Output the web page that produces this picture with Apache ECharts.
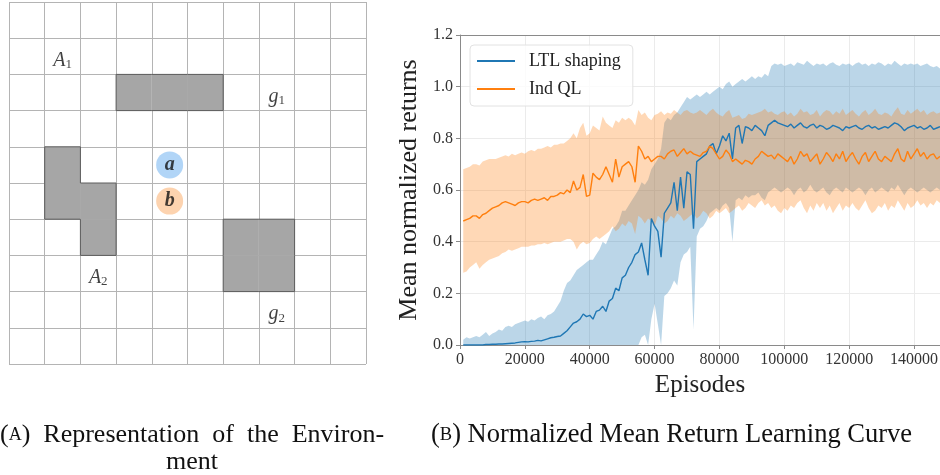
<!DOCTYPE html>
<html>
<head>
<meta charset="utf-8">
<script src="https://cdn.jsdelivr.net/npm/echarts@6/dist/echarts.min.js"></script>
<style>
html, body { margin: 0; padding: 0; background: #fff; }
#main { width: 940px; height: 475px; }
</style>
</head>
<body>
<div id="main"></div>
<script>
// ---- left: grid world ----
var gridSize = 10;
var obstacleCells = [[3, 2], [4, 2], [5, 2], [1, 4], [1, 5], [2, 5], [2, 6], [6, 6], [7, 6], [6, 7], [7, 7]];
var cellLabels = [[1.5, 1.5, 'A', '1'], [7.5, 2.5, 'g', '1'], [2.5, 7.5, 'A', '2'], [7.5, 8.5, 'g', '2']];
var agentCells = [[4.5, 4.5], [4.5, 5.5]];
var agentNames = ['a', 'b'];
var agentColors = ['#9ecaf5', '#fcc89b'];

// ---- right: learning curve (episodes 1000, 2000, ... 148000) ----
var epStart = 1000, epStep = 1000;
var xTicks = [0, 20000, 40000, 60000, 80000, 100000, 120000, 140000];

var ltlMean = [
  0, 0, 0, 0, 0, 0, 0, 0.002, 0.002, 0.003,
  0.003, 0.004, 0.004, 0.005, 0.006, 0.007, 0.008, 0.01, 0.012, 0.013,
  0.012, 0.014, 0.015, 0.018, 0.016, 0.02, 0.024, 0.028, 0.03, 0.033,
  0.035, 0.045, 0.055, 0.07, 0.085, 0.09, 0.10, 0.12, 0.11, 0.115,
  0.10, 0.13, 0.135, 0.15, 0.13, 0.17, 0.18, 0.22, 0.21, 0.26,
  0.27, 0.30, 0.32, 0.35, 0.36, 0.395, 0.33, 0.27, 0.49, 0.46,
  0.44, 0.34, 0.51, 0.53, 0.55, 0.63, 0.52, 0.65, 0.53, 0.67,
  0.66, 0.45, 0.71, 0.72, 0.73, 0.74, 0.77, 0.78, 0.74, 0.77,
  0.81, 0.79, 0.82, 0.72, 0.84, 0.85, 0.78, 0.845, 0.84, 0.83,
  0.85, 0.84, 0.83, 0.81, 0.85, 0.86, 0.87, 0.86, 0.855, 0.85,
  0.845, 0.855, 0.84, 0.85, 0.86, 0.845, 0.84, 0.85, 0.855, 0.84,
  0.85, 0.845, 0.835, 0.84, 0.85, 0.845, 0.84, 0.83, 0.845, 0.84,
  0.845, 0.85, 0.84, 0.835, 0.845, 0.85, 0.84, 0.845, 0.835, 0.84,
  0.845, 0.84, 0.85, 0.86, 0.855, 0.845, 0.83, 0.84, 0.845, 0.85,
  0.84, 0.845, 0.835, 0.84, 0.85, 0.835, 0.84, 0.845
];
var ltlHi = [
  0.02, 0.03, 0.025, 0.03, 0.035, 0.03, 0.04, 0.05, 0.035, 0.045,
  0.05, 0.06, 0.055, 0.07, 0.075, 0.07, 0.08, 0.085, 0.09, 0.095,
  0.09, 0.10, 0.095, 0.105, 0.11, 0.10, 0.115, 0.12, 0.13, 0.15,
  0.17, 0.21, 0.24, 0.25, 0.27, 0.29, 0.30, 0.31, 0.32, 0.33,
  0.33, 0.35, 0.37, 0.40, 0.39, 0.42, 0.45, 0.46, 0.48, 0.52,
  0.52, 0.54, 0.56, 0.58, 0.60, 0.63, 0.62, 0.64, 0.68, 0.70,
  0.72, 0.76, 0.86, 0.88, 0.87, 0.89, 0.90, 0.92, 0.94, 0.96,
  0.95, 0.96, 0.97, 0.96, 0.97, 0.98, 0.97, 0.98, 0.99, 1.00,
  0.99, 1.01, 1.02, 1.00, 1.01, 1.02, 1.03, 1.02, 1.03, 1.04,
  1.03, 1.04, 1.035, 1.05, 1.04, 1.08, 1.09, 1.085, 1.09, 1.08,
  1.085, 1.09, 1.08, 1.095, 1.09, 1.085, 1.10, 1.09, 1.08, 1.09,
  1.085, 1.09, 1.08, 1.09, 1.095, 1.085, 1.08, 1.09, 1.085, 1.09,
  1.08, 1.09, 1.095, 1.085, 1.09, 1.08, 1.09, 1.085, 1.095, 1.09,
  1.08, 1.09, 1.085, 1.10, 1.09, 1.08, 1.09, 1.085, 1.09, 1.085,
  1.09, 1.08, 1.085, 1.09, 1.08, 1.075, 1.08, 1.07
];
var ltlLo = [
  0, 0, 0, 0, 0, 0, 0, 0, 0, 0,
  0, 0, 0, 0, 0, 0, 0, 0, 0, 0,
  0, 0, 0, 0, 0, 0, 0, 0, 0, 0,
  0, 0, 0, 0, 0, 0, 0, 0, 0, 0,
  0, 0, 0, 0, 0, 0, 0, 0, 0, 0,
  0, 0, 0, 0, 0, 0.03, 0.04, 0, 0.10, 0.16,
  0.08, 0, 0.19, 0.20, 0.22, 0.25, 0.23, 0.32, 0.35, 0.36,
  0.38, 0.06, 0.42, 0.45, 0.46, 0.48, 0.51, 0.52, 0.53, 0.52,
  0.54, 0.55, 0.53, 0.40, 0.56, 0.57, 0.56, 0.58, 0.57, 0.58,
  0.58, 0.59, 0.57, 0.56, 0.59, 0.60, 0.61, 0.60, 0.59, 0.60,
  0.61, 0.60, 0.58, 0.60, 0.61, 0.59, 0.60, 0.62, 0.60, 0.59,
  0.60, 0.61, 0.59, 0.58, 0.60, 0.61, 0.60, 0.59, 0.61, 0.60,
  0.59, 0.60, 0.61, 0.60, 0.58, 0.60, 0.61, 0.59, 0.60, 0.61,
  0.60, 0.59, 0.61, 0.60, 0.62, 0.60, 0.58, 0.60, 0.61, 0.60,
  0.59, 0.60, 0.61, 0.60, 0.59, 0.60, 0.61, 0.60
];

var indMean = [
  0.48, 0.485, 0.49, 0.50, 0.50, 0.49, 0.505, 0.51, 0.52, 0.53,
  0.535, 0.54, 0.55, 0.555, 0.55, 0.545, 0.54, 0.55, 0.555, 0.555,
  0.55, 0.56, 0.565, 0.56, 0.565, 0.57, 0.56, 0.575, 0.575, 0.58,
  0.59, 0.585, 0.60, 0.59, 0.635, 0.60, 0.61, 0.66, 0.575, 0.58,
  0.665, 0.65, 0.64, 0.66, 0.69, 0.66, 0.63, 0.72, 0.65, 0.69,
  0.70, 0.71, 0.69, 0.63, 0.77, 0.75, 0.72, 0.73, 0.71, 0.72,
  0.73, 0.73, 0.72, 0.74, 0.75, 0.755, 0.73, 0.745, 0.76, 0.74,
  0.75, 0.74, 0.735, 0.73, 0.745, 0.75, 0.77, 0.76, 0.74, 0.72,
  0.73, 0.755, 0.74, 0.71, 0.72, 0.71, 0.70, 0.715, 0.71, 0.70,
  0.72, 0.73, 0.75, 0.74, 0.73, 0.735, 0.72, 0.74, 0.73, 0.72,
  0.71, 0.73, 0.70, 0.72, 0.75, 0.73, 0.74, 0.71, 0.725, 0.74,
  0.70, 0.72, 0.745, 0.73, 0.71, 0.74, 0.72, 0.75, 0.71, 0.73,
  0.745, 0.72, 0.70, 0.73, 0.745, 0.71, 0.73, 0.75, 0.72, 0.71,
  0.73, 0.72, 0.71, 0.74, 0.76, 0.72, 0.71, 0.75, 0.72, 0.74,
  0.76, 0.73, 0.745, 0.72, 0.735, 0.74, 0.72, 0.73
];
var indHi = [
  0.68, 0.685, 0.69, 0.70, 0.70, 0.695, 0.71, 0.715, 0.72, 0.72,
  0.72, 0.725, 0.73, 0.735, 0.73, 0.74, 0.735, 0.74, 0.745, 0.74,
  0.75, 0.755, 0.75, 0.76, 0.76, 0.765, 0.77, 0.765, 0.775, 0.775,
  0.78, 0.78, 0.79, 0.80, 0.82, 0.80, 0.84, 0.86, 0.81, 0.82,
  0.85, 0.84, 0.83, 0.885, 0.86, 0.85, 0.84, 0.87, 0.86, 0.88,
  0.87, 0.88, 0.87, 0.85, 0.91, 0.89, 0.90, 0.88, 0.87, 0.89,
  0.895, 0.905, 0.89, 0.90, 0.895, 0.91, 0.90, 0.89, 0.905, 0.91,
  0.90, 0.895, 0.90, 0.91, 0.90, 0.89, 0.905, 0.915, 0.90, 0.89,
  0.885, 0.90, 0.91, 0.88, 0.885, 0.89, 0.875, 0.88, 0.895, 0.89,
  0.895, 0.90, 0.905, 0.915, 0.90, 0.905, 0.895, 0.89, 0.90, 0.905,
  0.89, 0.90, 0.885, 0.895, 0.915, 0.90, 0.905, 0.89, 0.895, 0.91,
  0.885, 0.90, 0.91, 0.905, 0.89, 0.905, 0.895, 0.915, 0.89, 0.90,
  0.91, 0.895, 0.885, 0.90, 0.91, 0.89, 0.90, 0.915, 0.895, 0.89,
  0.90, 0.895, 0.885, 0.905, 0.92, 0.895, 0.89, 0.91, 0.895, 0.905,
  0.915, 0.90, 0.91, 0.89, 0.90, 0.905, 0.895, 0.90
];
var indLo = [
  0.28, 0.285, 0.30, 0.31, 0.32, 0.295, 0.31, 0.32, 0.33, 0.335,
  0.34, 0.345, 0.355, 0.36, 0.37, 0.365, 0.37, 0.375, 0.38, 0.38,
  0.38, 0.385, 0.385, 0.39, 0.39, 0.395, 0.39, 0.395, 0.40, 0.40,
  0.40, 0.405, 0.41, 0.41, 0.40, 0.37, 0.39, 0.40, 0.39, 0.395,
  0.41, 0.42, 0.41, 0.42, 0.43, 0.44, 0.46, 0.44, 0.45, 0.47,
  0.46, 0.48, 0.47, 0.43, 0.50, 0.49, 0.47, 0.49, 0.48, 0.46,
  0.50, 0.49, 0.47, 0.48, 0.50, 0.49, 0.51, 0.50, 0.48, 0.49,
  0.50, 0.51, 0.49, 0.50, 0.52, 0.51, 0.49, 0.50, 0.52, 0.51,
  0.52, 0.53, 0.51, 0.52, 0.53, 0.54, 0.52, 0.53, 0.55, 0.54,
  0.53, 0.55, 0.56, 0.54, 0.55, 0.53, 0.54, 0.52, 0.51, 0.53,
  0.52, 0.54, 0.53, 0.55, 0.56, 0.53, 0.51, 0.54, 0.52, 0.55,
  0.53, 0.55, 0.52, 0.54, 0.51, 0.53, 0.55, 0.52, 0.54, 0.53,
  0.55, 0.53, 0.52, 0.54, 0.56, 0.53, 0.51, 0.52, 0.54, 0.53,
  0.55, 0.52, 0.54, 0.53, 0.56, 0.54, 0.52, 0.55, 0.53, 0.54,
  0.56, 0.54, 0.55, 0.53, 0.55, 0.54, 0.56, 0.55
];

var serif = "'Liberation Serif', 'DejaVu Serif', serif";
var blue = '#1f77b4', orange = '#ff7f0e';

function episode(i) { return epStart + i * epStep; }
function pairs(vals) {
  return vals.map(function (v, i) { return [episode(i), v]; });
}
function bandRows(lo, hi) {
  return lo.map(function (v, i) { return [episode(i), v, hi[i]]; });
}
function isObstacle(c, r) {
  return obstacleCells.some(function (p) { return p[0] === c && p[1] === r; });
}

// one polygon for the whole band: upper edge forward, lower edge back
function bandSeries(lo, hi, color) {
  return {
    type: 'custom', xAxisIndex: 1, yAxisIndex: 1, silent: true,
    data: bandRows(lo, hi),
    encode: {x: 0, y: [1, 2]},
    renderItem: function (params, api) {
      if (params.dataIndex !== 0) return null;
      var top = [], bottom = [];
      for (var i = 0; i < lo.length; i++) {
        top.push(api.coord([episode(i), hi[i]]));
        bottom.push(api.coord([episode(i), lo[i]]));
      }
      return {
        type: 'polygon',
        shape: {points: top.concat(bottom.reverse())},
        style: {fill: color, opacity: 0.3}
      };
    }
  };
}

var chart = echarts.init(document.getElementById('main'));

var option = {
  animation: false,
  backgroundColor: '#fff',
  textStyle: {fontFamily: serif},
  grid: [
    {left: 9, top: 2, width: 357, height: 362, containLabel: false, outerBoundsMode: 'none'},
    {left: 460, top: 35, width: 480, height: 310, containLabel: false, outerBoundsMode: 'none'}
  ],
  xAxis: [
    {
      gridIndex: 0, type: 'value', min: 0, max: gridSize, interval: 1,
      axisLine: {show: false}, axisTick: {show: false}, axisLabel: {show: false},
      splitLine: {show: true, lineStyle: {color: '#b4b4b4', width: 1}}
    },
    {
      gridIndex: 1, type: 'value', min: 0, max: 148000, interval: 20000,
      axisLine: {show: true, lineStyle: {color: '#8a8a8a', width: 1}},
      axisTick: {show: true, length: 4, lineStyle: {color: '#8a8a8a'}},
      axisLabel: {
        fontFamily: serif, fontSize: 16, color: '#333', margin: 7, showMaxLabel: false,
        formatter: function (v) { return xTicks.indexOf(v) >= 0 ? String(v) : ''; }
      },
      splitLine: {show: true, lineStyle: {color: '#ebebeb', width: 1}},
      name: 'Episodes', nameLocation: 'middle', nameGap: 27,
      nameTextStyle: {fontFamily: serif, fontSize: 25, color: '#222'}
    },
    {
      gridIndex: 1, type: 'value', min: 0, max: 148000, position: 'top',
      axisLine: {show: true, lineStyle: {color: '#8a8a8a', width: 1}},
      axisTick: {show: false}, axisLabel: {show: false}, splitLine: {show: false}
    }
  ],
  yAxis: [
    {
      gridIndex: 0, type: 'value', min: 0, max: gridSize, interval: 1, inverse: true,
      axisLine: {show: false}, axisTick: {show: false}, axisLabel: {show: false},
      splitLine: {show: true, lineStyle: {color: '#b4b4b4', width: 1}}
    },
    {
      gridIndex: 1, type: 'value', min: 0, max: 1.2, interval: 0.2,
      axisLine: {show: true, lineStyle: {color: '#8a8a8a', width: 1}},
      axisTick: {show: true, length: 4, lineStyle: {color: '#8a8a8a'}},
      axisLabel: {
        fontFamily: serif, fontSize: 16, color: '#333', margin: 7,
        formatter: function (v) { return v.toFixed(1); }
      },
      splitLine: {show: true, lineStyle: {color: '#ebebeb', width: 1}},
      name: 'Mean normalized returns', nameLocation: 'middle', nameGap: 36,
      nameTextStyle: {fontFamily: serif, fontSize: 26, color: '#222'}
    }
  ],
  legend: {
    data: ['LTL shaping', 'Ind QL'],
    orient: 'vertical', left: 470, top: 45,
    icon: 'rect', itemWidth: 38, itemHeight: 2, itemGap: 10,
    padding: [7, 12, 8, 7],
    backgroundColor: 'rgba(255,255,255,0.8)',
    borderColor: '#e2e2e2', borderWidth: 1, borderRadius: 4,
    textStyle: {fontFamily: serif, fontSize: 18, color: '#222', padding: [0, 0, 0, 9]}
  },
  graphic: [
    {
      type: 'text', left: 0, top: 422,
      style: {
        text: '{p|(}{s|A}{p|)}  Representation  of  the  Environ-',
        font: '26px ' + serif, fill: '#111',
        rich: {p: {fontSize: 26, fontFamily: serif}, s: {fontSize: 18, fontFamily: serif}}
      }
    },
    {
      type: 'text', left: 166, top: 449,
      style: {text: 'ment', font: '26px ' + serif, fill: '#111'}
    },
    {
      type: 'text', left: 431, top: 422,
      style: {
        text: '{p|(}{s|B}{p|)} Normalized Mean Return Learning Curve',
        font: '26.5px ' + serif, fill: '#111',
        rich: {p: {fontSize: 26.5, fontFamily: serif}, s: {fontSize: 18.5, fontFamily: serif}}
      }
    }
  ],
  series: [
    {
      type: 'custom', xAxisIndex: 0, yAxisIndex: 0, silent: true,
      data: obstacleCells,
      renderItem: function (params, api) {
        var c = api.value(0), r = api.value(1);
        var p0 = api.coord([c, r]), p1 = api.coord([c + 1, r + 1]);
        var x0 = Math.min(p0[0], p1[0]), x1 = Math.max(p0[0], p1[0]);
        var y0 = Math.min(p0[1], p1[1]), y1 = Math.max(p0[1], p1[1]);
        var children = [{
          type: 'rect', shape: {x: x0, y: y0, width: x1 - x0, height: y1 - y0},
          style: {fill: '#a6a6a6'}
        }];
        var edges = [[0, -1, x0, y0, x1, y0], [0, 1, x0, y1, x1, y1], [-1, 0, x0, y0, x0, y1], [1, 0, x1, y0, x1, y1]];
        edges.forEach(function (e) {
          if (!isObstacle(c + e[0], r + e[1])) {
            children.push({
              type: 'line', shape: {x1: e[2], y1: e[3], x2: e[4], y2: e[5]},
              style: {stroke: '#5c5c5c', lineWidth: 1}
            });
          }
        });
        return {type: 'group', children: children};
      }
    },
    {
      type: 'scatter', xAxisIndex: 0, yAxisIndex: 0, silent: true,
      symbolSize: 1, itemStyle: {color: 'transparent'},
      data: cellLabels,
      label: {
        show: true, position: 'inside', offset: [0, 4],
        formatter: function (p) { return '{m|' + p.data[2] + '}{s|' + p.data[3] + '}'; },
        rich: {
          m: {fontFamily: serif, fontStyle: 'italic', fontSize: 20, color: '#111', lineHeight: 22},
          s: {fontFamily: serif, fontSize: 13, color: '#111', verticalAlign: 'bottom', lineHeight: 22, padding: [8, 0, 0, 0]}
        }
      }
    },
    {
      type: 'scatter', xAxisIndex: 0, yAxisIndex: 0, silent: true,
      symbol: 'circle', symbolSize: 27,
      data: agentCells.map(function (p, i) {
        return {value: p, name: agentNames[i], itemStyle: {color: agentColors[i]}};
      }),
      label: {
        show: true, position: 'inside', formatter: '{b}',
        fontFamily: serif, fontStyle: 'italic', fontWeight: 'bold', fontSize: 20, color: '#111'
      }
    },
    bandSeries(ltlLo, ltlHi, blue),
    bandSeries(indLo, indHi, orange),
    {
      name: 'LTL shaping', type: 'line', xAxisIndex: 1, yAxisIndex: 1,
      symbol: 'none', color: blue, itemStyle: {color: blue},
      lineStyle: {color: blue, width: 1.4}, data: pairs(ltlMean)
    },
    {
      name: 'Ind QL', type: 'line', xAxisIndex: 1, yAxisIndex: 1,
      symbol: 'none', color: orange, itemStyle: {color: orange},
      lineStyle: {color: orange, width: 1.4}, data: pairs(indMean)
    }
  ]
};

chart.setOption(option);
</script>
</body>
</html>
